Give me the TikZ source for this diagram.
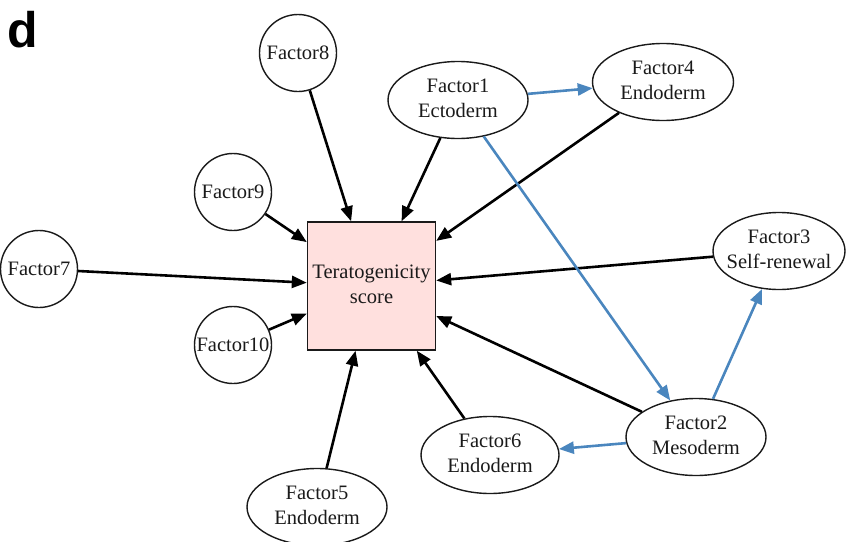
\documentclass[tikz,border=0pt]{standalone}
\usepackage{fontspec}
\setmainfont{Liberation Serif}
\newfontfamily\nodefont{Liberation Serif}
\newfontfamily\panelfont{Liberation Sans}
\usetikzlibrary{shapes.geometric,arrows.meta}
\definecolor{edgeblue}{HTML}{4A86BE}
\definecolor{boxpink}{HTML}{FFE0DE}
\definecolor{inkgray}{HTML}{1A1A1A}
\newcommand\twolines[2]{\makebox[0pt]{\begin{tabular}{@{}c@{}}#1\\#2\end{tabular}}}
\newcommand\onel[1]{\makebox[0pt]{#1}}
\begin{document}
\begin{tikzpicture}[x=1pt,y=-1pt,
  every node/.style={font=\nodefont\fontsize{20.5}{25}\selectfont, text=inkgray},
  factorcircle/.style={circle, draw=inkgray, line width=1.4pt, minimum size=77pt, inner sep=0pt},
  factorellipse/.style={ellipse, draw=inkgray, line width=1.4pt, minimum height=77pt, minimum width=140pt, inner sep=0pt},
  scorebox/.style={rectangle, draw=inkgray, line width=1.4pt, fill=boxpink, minimum size=128pt, inner sep=0pt},
  blackedge/.style={draw=black, line width=2.6pt, -{Triangle[length=15pt,width=12pt]}},
  blueedge/.style={blackedge, draw=edgeblue}]
\useasboundingbox (0,0) rectangle (846,541);
\node[font=\panelfont\bfseries\fontsize{50}{50}\selectfont, text=black, anchor=base west, inner sep=0pt] (panel) at (7,47) {d};
\node[scorebox] (s) at (371.5,286) {\twolines{Teratogenicity}{score}};
\node[factorcircle] (f8) at (298,53) {\onel{Factor8}};
\node[factorcircle] (f9) at (233,192) {\onel{Factor9}};
\node[factorcircle] (f7) at (39,269) {\onel{Factor7}};
\node[factorcircle] (f10) at (233,345) {\onel{Factor10}};
\node[factorellipse] (f1) at (458,100) {\twolines{Factor1}{Ectoderm}};
\node[factorellipse, minimum width=141pt] (f4) at (663,82) {\twolines{Factor4}{Endoderm}};
\node[factorellipse, minimum width=132pt] (f3) at (779,251) {\twolines{Factor3}{Self-renewal}};
\node[factorellipse, minimum width=138pt] (f6) at (490,455) {\twolines{Factor6}{Endoderm}};
\node[factorellipse] (f2) at (696,437) {\twolines{Factor2}{Mesoderm}};
\node[factorellipse] (f5) at (317,507) {\twolines{Factor5}{Endoderm}};
\foreach \src in {f8,f9,f7,f10,f1,f4,f3,f6,f2,f5}
  \draw[blackedge] (\src) -- (s);
\draw[blueedge] (f1) -- (f4);
\draw[blueedge] (f1) -- (f2);
\draw[blueedge] (f2) -- (f3);
\draw[blueedge] (f2) -- (f6);
\end{tikzpicture}
\end{document}
